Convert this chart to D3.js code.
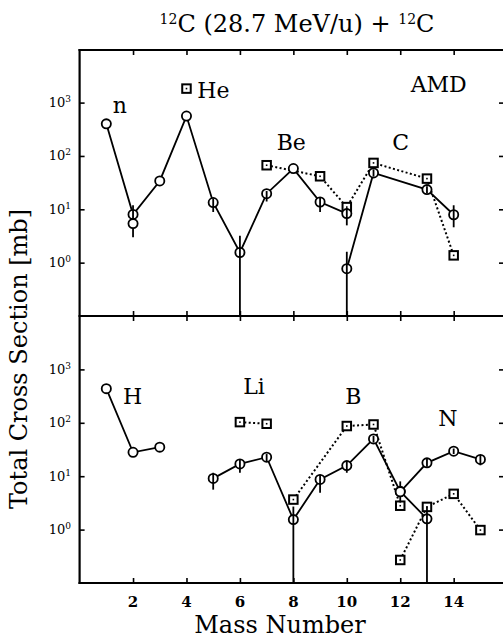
<!DOCTYPE html>
<html>
<head>
<meta charset="utf-8">
<script src="https://cdn.jsdelivr.net/npm/d3@7"></script>
<style>
  body { margin: 0; background: #fff; }
  svg { display: block; }
  text { font-family: "DejaVu Serif", "Liberation Serif", serif; fill: #000; }
</style>
</head>
<body>
<svg id="chart" width="503" height="638"></svg>
<script>
/*    ========    DATA    =========    */

// top panel (AMD) - circles, solid line
var topLineMass = [1, 2, 3, 4, 5, 6, 7, 8, 9, 10];
var topLineVal  = [400, 8, 34, 560, 13.4, 1.55, 19.6, 58, 13.7, 8.3];
var topLineLo   = [null, 3.0, null, null, 8.9, 0.01, 14, null, 8.9, 5];
var topLineHi   = [null, 11.9, null, null, 16, 3.2, 22, null, 17, 10.5];

var topCMass = [10, 11, 13, 14];
var topCVal  = [0.77, 48, 23.4, 7.9];
var topCLo   = [0.01, 41, 20, 4.6];
var topCHi   = [1.6, 56, 27, 11.9];

var topExtraMass = [2];
var topExtraVal  = [5.4];

// top panel - squares, dotted line
var topSqMass = [7, 9, 10, 11, 13, 14];
var topSqVal  = [67, 41.6, 11, 74, 37.6, 1.37];
var topHeSqMass = [4];
var topHeSqVal  = [1830];

// bottom panel - circles, solid line
var botHMass = [1, 2, 3];
var botHVal  = [436, 28, 35];

var botLiBMass = [5, 6, 7, 8, 9, 10, 11, 12, 13];
var botLiBVal  = [9.1, 17, 22.7, 1.54, 8.7, 15.8, 50, 5.2, 1.59];
var botLiBLo   = [5.6, 11.6, 19, 0.01, 4.9, 11.6, 43, 3.2, 0.01];
var botLiBHi   = [11.6, 20.5, 26, 2.7, 10.7, 19, 57, 8, 2.7];

var botNMass = [12, 13, 14, 15];
var botNVal  = [5.1, 17.8, 29.4, 20.6];
var botNLo   = [null, 15, 26, 16];
var botNHi   = [null, 21, 33, 25];

// bottom panel - squares, dotted line
var botLiSqMass = [6, 7];
var botLiSqVal  = [103, 96];
var botBSqMass  = [8, 10, 11, 12];
var botBSqVal   = [3.65, 87, 93, 2.8];
var botNSqMass  = [12, 13, 14, 15];
var botNSqVal   = [0.27, 2.66, 4.67, 0.98];

// element labels (anchored in data coordinates)
var topLabels    = ["n", "He", "Be", "C", "AMD"];
var topLabelMass = [1.51, 5.01, 7.92, 12.02, 13.44];
var topLabelVal  = [638, 1220, 129, 129, 1590];
var botLabels    = ["H", "Li", "B", "N"];
var botLabelMass = [1.98, 6.53, 10.24, 13.78];
var botLabelVal  = [222, 347, 222, 87];

var xTicks = [2, 4, 6, 8, 10, 12, 14];
var yTicks = [1, 10, 100, 1000];
var yExps  = ["0", "1", "2", "3"];

/*    ========    SETTINGS    =========    */

var svg = d3.select('#chart');

var X0 = 79.6, X1 = 506;
var TOP_Y0 = 50, MID_Y = 316, BOT_Y = 583;

var xscale = d3.scaleLinear()
    .domain([0, (X1 - X0) / 26.72])
    .range([X0, X1]);

var yTop = d3.scaleLog().clamp(true)
    .domain([0.1, 1e4])
    .range([MID_Y, MID_Y - 5 * 53.35]);
var yBot = d3.scaleLog().clamp(true)
    .domain([0.1, 1e4])
    .range([BOT_Y, BOT_Y - 5 * 53.4]);

/*    ========    FUNCTIONS    =========    */

function zip(mass, val, lo, hi) {
    return mass.map(function(m, i) {
        return { m: m, v: val[i], lo: lo ? lo[i] : null, hi: hi ? hi[i] : null };
    });
}

function drawLine(g, ys, pts, dotted) {
    var line = d3.line()
        .x(function(d) { return xscale(d.m); })
        .y(function(d) { return ys(d.v); });
    g.append("path")
        .datum(pts)
        .attr("d", line)
        .attr("fill", "none")
        .attr("stroke", "#000")
        .attr("stroke-width", dotted ? 2 : 1.8)
        .attr("stroke-dasharray", dotted ? "2,2.4" : null);
}

function drawCircles(g, ys, pts) {
    g.selectAll(null).data(pts).enter().append("circle")
        .attr("cx", function(d) { return xscale(d.m); })
        .attr("cy", function(d) { return ys(d.v); })
        .attr("r", 4.6)
        .attr("fill", "#fff")
        .attr("stroke", "#000")
        .attr("stroke-width", 1.8);
    var err = pts.filter(function(d) { return d.lo !== null; });
    g.selectAll(null).data(err).enter().append("line")
        .attr("x1", function(d) { return xscale(d.m); })
        .attr("x2", function(d) { return xscale(d.m); })
        .attr("y1", function(d) { return ys(d.lo); })
        .attr("y2", function(d) { return ys(d.hi); })
        .attr("stroke", "#000")
        .attr("stroke-width", 1.8);
}

function drawSquares(g, ys, pts) {
    var s = 8.5;
    g.selectAll(null).data(pts).enter().append("rect")
        .attr("x", function(d) { return xscale(d.m) - s / 2; })
        .attr("y", function(d) { return ys(d.v) - s / 2; })
        .attr("width", s)
        .attr("height", s)
        .attr("fill", "#fff")
        .attr("stroke", "#000")
        .attr("stroke-width", 2);
    g.selectAll(null).data(pts).enter().append("rect")
        .attr("x", function(d) { return xscale(d.m) - 0.8; })
        .attr("y", function(d) { return ys(d.v) - 0.8; })
        .attr("width", 1.6)
        .attr("height", 1.6)
        .attr("fill", "#000");
}

function drawLabels(g, ys, names, mass, val) {
    g.selectAll(null).data(names).enter().append("text")
        .attr("x", function(d, i) { return xscale(mass[i]); })
        .attr("y", function(d, i) { return ys(val[i]); })
        .attr("text-anchor", "middle")
        .style("font-size", "22px")
        .text(function(d) { return d; });
}

function drawFrame() {
    var frame = svg.append("g").attr("class", "frame");

    // x ticks (inward) on every horizontal border
    var xAxisTop = d3.axisBottom(xscale).tickValues(xTicks).tickSize(5).tickFormat("");
    var xAxisMidUp = d3.axisTop(xscale).tickValues(xTicks).tickSize(5).tickFormat("");
    var xAxisMidDn = d3.axisBottom(xscale).tickValues(xTicks).tickSize(5).tickFormat("");
    var xAxisBot = d3.axisTop(xscale).tickValues(xTicks).tickSize(5).tickFormat("");

    [[xAxisTop, TOP_Y0], [xAxisMidUp, MID_Y], [xAxisMidDn, MID_Y], [xAxisBot, BOT_Y]]
        .forEach(function(a) {
            frame.append("g")
                .attr("transform", "translate(0," + a[1] + ")")
                .call(a[0]);
        });

    // y ticks, left and right, both panels
    [yTop, yBot].forEach(function(ys) {
        frame.append("g")
            .attr("transform", "translate(" + X0 + ",0)")
            .call(d3.axisRight(ys).tickValues(yTicks).tickSize(5).tickFormat(""));
        frame.append("g")
            .attr("transform", "translate(" + 503 + ",0)")
            .call(d3.axisLeft(ys).tickValues(yTicks).tickSize(4).tickFormat(""));
    });

    frame.selectAll(".domain").remove();
    frame.selectAll(".tick line").attr("stroke", "#000").attr("stroke-width", 1.6);

    // border lines
    var borders = [[X0, TOP_Y0, X1, TOP_Y0], [X0, MID_Y, X1, MID_Y],
                   [X0, BOT_Y, X1, BOT_Y], [X0, TOP_Y0, X0, BOT_Y]];
    frame.selectAll(null).data(borders).enter().append("line")
        .attr("x1", function(d) { return d[0]; })
        .attr("y1", function(d) { return d[1]; })
        .attr("x2", function(d) { return d[2]; })
        .attr("y2", function(d) { return d[3]; })
        .attr("stroke", "#000")
        .attr("stroke-width", 2.2)
        .attr("stroke-linecap", "square");

    // y tick labels 10^n
    [yTop, yBot].forEach(function(ys) {
        var t = svg.append("g").selectAll(null).data(yTicks).enter().append("text")
            .attr("x", 71)
            .attr("y", function(d) { return ys(d) + 4.5; })
            .attr("text-anchor", "end")
            .style("font-size", "13px");
        t.append("tspan").text("10");
        t.append("tspan")
            .attr("dy", -5)
            .style("font-size", "9px")
            .text(function(d, i) { return yExps[i]; });
    });

    // x tick labels
    svg.append("g").selectAll(null).data(xTicks).enter().append("text")
        .attr("x", function(d) { return xscale(d); })
        .attr("y", 607)
        .attr("text-anchor", "middle")
        .style("font-size", "15px")
        .style("font-weight", "bold")
        .text(function(d) { return d; });
}

function drawTitles() {
    var title = svg.append("text")
        .attr("x", 297)
        .attr("y", 32)
        .attr("text-anchor", "middle")
        .style("font-size", "24px");
    title.append("tspan").attr("dy", -8).style("font-size", "14px").text("12");
    title.append("tspan").attr("dy", 8).text("C (28.7 MeV/u) + ");
    title.append("tspan").attr("dy", -8).style("font-size", "14px").text("12");
    title.append("tspan").attr("dy", 8).text("C");

    svg.append("text")
        .attr("x", 280)
        .attr("y", 633)
        .attr("text-anchor", "middle")
        .style("font-size", "24px")
        .text("Mass Number");

    svg.append("text")
        .attr("transform", "translate(27,359) rotate(-90)")
        .attr("text-anchor", "middle")
        .style("font-size", "24px")
        .text("Total Cross Section [mb]");
}

/*    ========    RUN    =========    */

drawFrame();
drawTitles();

var gTop = svg.append("g").attr("class", "top");
drawLine(gTop, yTop, zip(topSqMass, topSqVal), true);
drawLine(gTop, yTop, zip(topLineMass, topLineVal), false);
drawLine(gTop, yTop, zip(topCMass, topCVal), false);
drawSquares(gTop, yTop, zip(topSqMass, topSqVal));
drawSquares(gTop, yTop, zip(topHeSqMass, topHeSqVal));
drawCircles(gTop, yTop, zip(topLineMass, topLineVal, topLineLo, topLineHi));
drawCircles(gTop, yTop, zip(topCMass, topCVal, topCLo, topCHi));
drawCircles(gTop, yTop, zip(topExtraMass, topExtraVal));
drawLabels(gTop, yTop, topLabels, topLabelMass, topLabelVal);

var gBot = svg.append("g").attr("class", "bottom");
drawLine(gBot, yBot, zip(botLiSqMass, botLiSqVal), true);
drawLine(gBot, yBot, zip(botBSqMass, botBSqVal), true);
drawLine(gBot, yBot, zip(botNSqMass, botNSqVal), true);
drawLine(gBot, yBot, zip(botHMass, botHVal), false);
drawLine(gBot, yBot, zip(botLiBMass, botLiBVal), false);
drawLine(gBot, yBot, zip(botNMass, botNVal), false);
drawSquares(gBot, yBot, zip(botLiSqMass, botLiSqVal));
drawSquares(gBot, yBot, zip(botBSqMass, botBSqVal));
drawSquares(gBot, yBot, zip(botNSqMass, botNSqVal));
drawCircles(gBot, yBot, zip(botHMass, botHVal));
drawCircles(gBot, yBot, zip(botLiBMass, botLiBVal, botLiBLo, botLiBHi));
drawCircles(gBot, yBot, zip(botNMass, botNVal, botNLo, botNHi));
drawLabels(gBot, yBot, botLabels, botLabelMass, botLabelVal);
</script>
</body>
</html>
